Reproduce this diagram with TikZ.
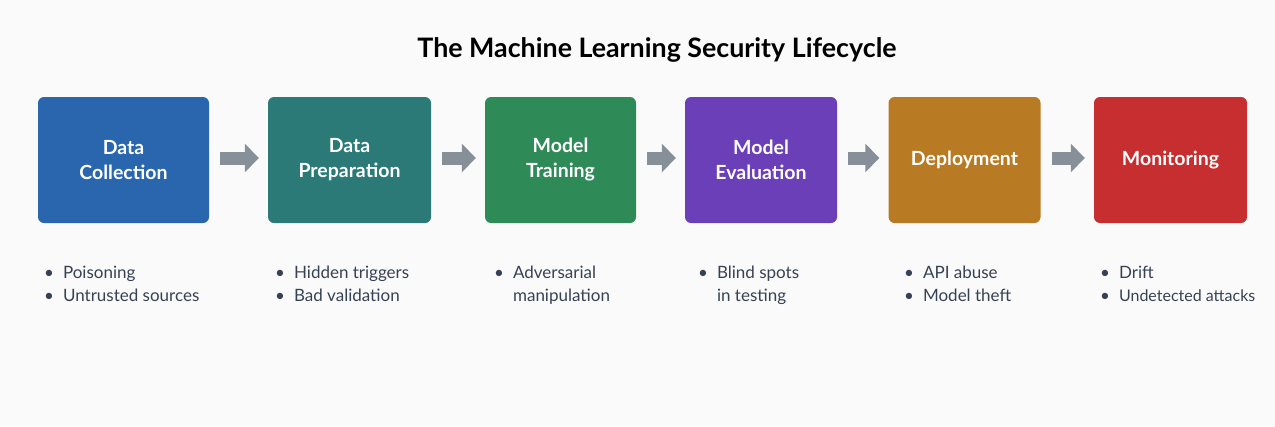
\documentclass[tikz,border=0pt]{standalone}
\usepackage{fontspec}
\setmainfont{Lato}
\usetikzlibrary{arrows.meta}
\definecolor{bgc}{HTML}{FAFAFA}
\definecolor{c1}{HTML}{2966AD}
\definecolor{c2}{HTML}{2B7A78}
\definecolor{c3}{HTML}{2E8A57}
\definecolor{c4}{HTML}{6A3FB8}
\definecolor{c5}{HTML}{B87A22}
\definecolor{c6}{HTML}{C62E30}
\definecolor{arrc}{HTML}{878F99}
\definecolor{txtc}{HTML}{364254}
\begin{document}
\begin{tikzpicture}[x=1pt,y=-1pt,
  stage/.style={rounded corners=6pt, minimum height=126pt, text=white, align=center,
    font=\fontsize{19.5}{25}\selectfont\bfseries, inner sep=0pt},
  flow/.style={draw=arrc, line width=13pt, shorten <=11pt, shorten >=9pt,
    -{Triangle[length=14pt, width=28pt]}},
  risks/.style={anchor=base west, text=txtc, inner sep=0pt,
    font=\fontsize{17}{23.5}\selectfont}]
\fill[bgc] (0,0) rectangle (1275,426);
\useasboundingbox (0,0) rectangle (1275,426);
\node[font=\fontsize{26.8}{30}\selectfont\bfseries, anchor=base] (title) at (657,57) {The Machine Learning Security Lifecycle};
\node[stage, fill=c1, minimum width=171pt] (s1) at (123.5,160) {Data\\Collection};
\node[stage, fill=c2, minimum width=163pt] (s2) at (349.5,160) {Data\\Preparation};
\node[stage, fill=c3, minimum width=151pt] (s3) at (560.5,160) {Model\\Training};
\node[stage, fill=c4, minimum width=152pt] (s4) at (761,160) {Model\\Evaluation};
\node[stage, fill=c5, minimum width=152pt] (s5) at (964.5,160) {Deployment};
\node[stage, fill=c6, minimum width=153pt] (s6) at (1170.5,160) {Monitoring};
\foreach \a/\b in {s1/s2,s2/s3,s3/s4,s4/s5,s5/s6}
  \draw[flow] ([yshift=2pt]\a.east) -- ([yshift=2pt]\b.west);
\node[risks] (r1) at (44,278) {\begin{tabular}[t]{@{}l@{\hspace{9pt}}l@{}}\textbullet & Poisoning\\ \textbullet & Untrusted sources\end{tabular}};
\node[risks] (r2) at (275,278) {\begin{tabular}[t]{@{}l@{\hspace{9pt}}l@{}}\textbullet & Hidden triggers\\ \textbullet & Bad validation\end{tabular}};
\node[risks] (r3) at (494,278) {\begin{tabular}[t]{@{}l@{\hspace{9pt}}l@{}}\textbullet & Adversarial\\ & manipulation\end{tabular}};
\node[risks] (r4) at (698,278) {\begin{tabular}[t]{@{}l@{\hspace{9pt}}l@{}}\textbullet & Blind spots\\ & in testing\end{tabular}};
\node[risks] (r5) at (904,278) {\begin{tabular}[t]{@{}l@{\hspace{9pt}}l@{}}\textbullet & API abuse\\ \textbullet & Model theft\end{tabular}};
\node[risks] (r6) at (1100,278) {\begin{tabular}[t]{@{}l@{\hspace{9pt}}l@{}}\textbullet & Drift\\ \textbullet & {\fontsize{16}{23.5}\selectfont Undetected attacks}\end{tabular}};
\end{tikzpicture}
\end{document}
